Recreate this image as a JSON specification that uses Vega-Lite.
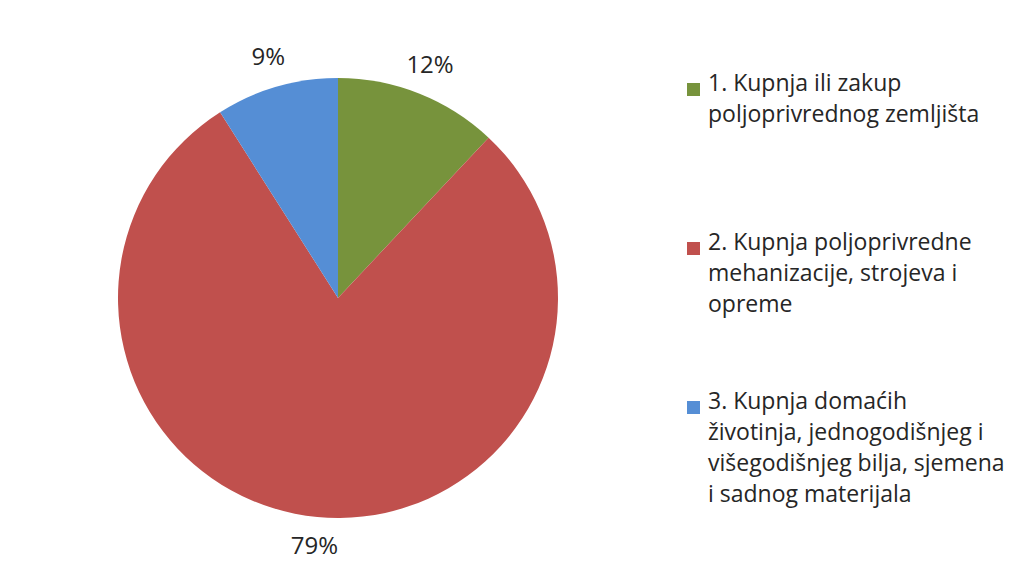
{
  "$schema": "https://vega.github.io/schema/vega-lite/v6.json",
  "width": 440,
  "height": 440,
  "autosize": {"type": "none"},
  "padding": {"left": 118, "top": 78, "right": 461, "bottom": 59},
  "background": "white",
  "config": {"view": {"stroke": null}, "font": "Open Sans"},
  "data": {
    "values": [
      {"kategorija": "1. Kupnja ili zakup\npoljoprivrednog zemljišta", "udio": 0.12},
      {"kategorija": "2. Kupnja poljoprivredne\nmehanizacije, strojeva i\nopreme", "udio": 0.79},
      {"kategorija": "3. Kupnja domaćih\nživotinja, jednogodišnjeg i\nvišegodišnjeg bilja, sjemena\ni sadnog materijala", "udio": 0.09}
    ]
  },
  "encoding": {
    "theta": {"field": "udio", "type": "quantitative", "stack": true},
    "order": {"field": "kategorija", "type": "nominal", "sort": "ascending"}
  },
  "layer": [
    {
      "mark": {"type": "arc", "outerRadius": 220},
      "encoding": {
        "color": {
          "field": "kategorija",
          "type": "nominal",
          "scale": {"range": ["#77933C", "#C0504D", "#558ED5"]},
          "legend": {
            "title": null,
            "orient": "none",
            "legendX": 564,
            "legendY": 0,
            "padding": 0,
            "symbolType": "square",
            "symbolSize": 169,
            "symbolStrokeWidth": 0,
            "labelFont": "Open Sans",
            "labelFontSize": 23,
            "labelColor": "#262626",
            "labelLimit": 400,
            "labelOffset": 3,
            "labelBaseline": "top",
            "gridAlign": "all",
            "rowPadding": 42,
            "labelExpr": "split(datum.label, '\\n')",
            "encode": {
              "labels": {"update": {"lineHeight": {"value": 31}, "dy": {"value": -17}}}
            }
          }
        }
      }
    },
    {
      "mark": {"type": "text", "radius": 250, "fontSize": 24, "font": "Open Sans", "fill": "#262626"},
      "encoding": {
        "detail": {"field": "kategorija", "type": "nominal"},
        "text": {"field": "udio", "type": "quantitative", "format": ".0%"}
      }
    }
  ]
}
